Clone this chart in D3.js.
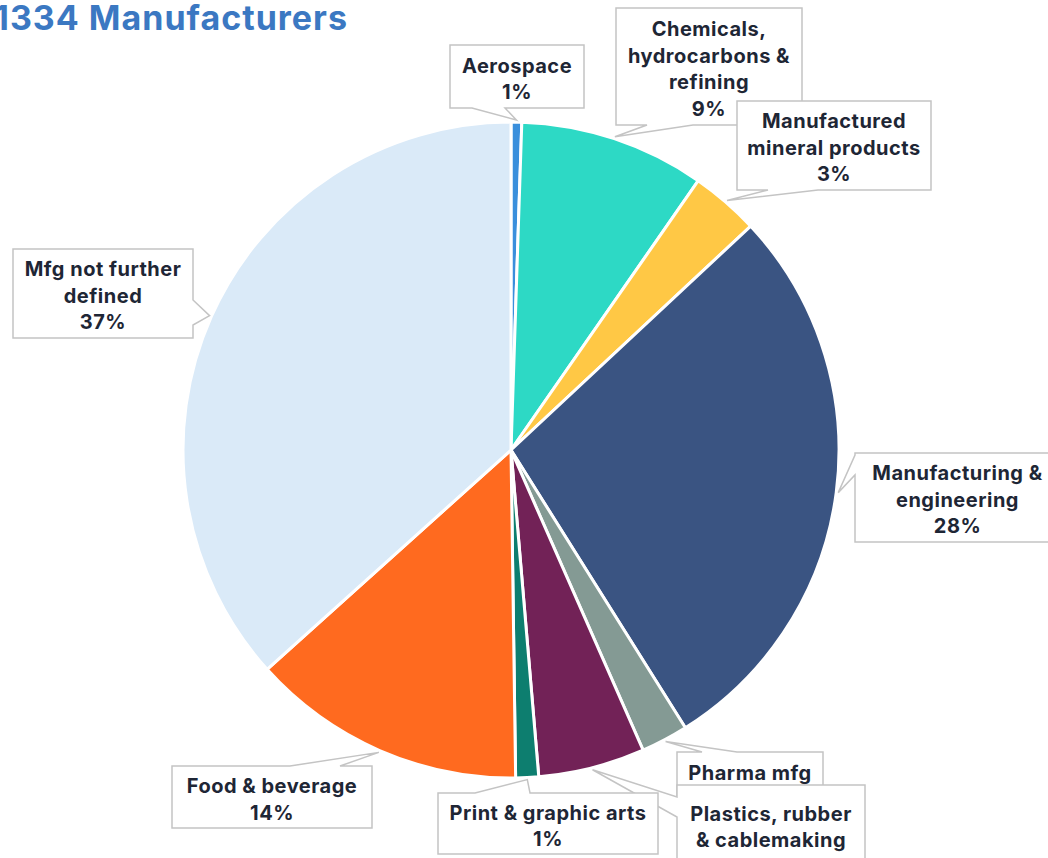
<!DOCTYPE html>
<html>
<head>
<meta charset="utf-8">
<script src="https://cdn.jsdelivr.net/npm/d3@7"></script>
<style>
  body { margin: 0; background: #fff; }
  svg { display: block; }
</style>
</head>
<body>
<div id="wrapper"></div>
<script>
/* DATA */
const categories = [
  'Aerospace',
  'Chemicals,\nhydrocarbons &\nrefining',
  'Manufactured\nmineral products',
  'Manufacturing &\nengineering',
  'Pharma mfg',
  'Plastics, rubber\n& cablemaking',
  'Print & graphic arts',
  'Food & beverage',
  'Mfg not further\ndefined',
];
const counts = [7, 122, 45, 374, 31, 70, 15, 181, 489];
const colors = [
  '#3a8fdc', '#2dd9c5', '#ffc845', '#3a5482', '#849a94',
  '#722257', '#0d7e6f', '#ff6a1f', '#daeaf8',
];

// callout boxes: x, y, w, h, side of the tail, tail base range on that side
const callouts = [
  { x: 450, y: 45, w: 134, h: 63, side: 'bottom', a: 472, b: 505 },
  { x: 616, y: 8, w: 186, h: 117, side: 'bottom', a: 647, b: 693 },
  { x: 737, y: 101, w: 194, h: 89, side: 'bottom', a: 768, b: 818 },
  { x: 855, y: 453, w: 205, h: 89, side: 'left', a: 455, b: 475 },
  { x: 677, y: 752, w: 146, h: 63, side: 'top', a: 702, b: 737 },
  { x: 677, y: 785, w: 188, h: 106, side: 'left', a: 797, b: 817 },
  { x: 438, y: 793, w: 220, h: 61, side: 'top', a: 475, b: 530 },
  { x: 172, y: 766, w: 200, h: 62, side: 'top', a: 290, b: 340 },
  { x: 13, y: 249, w: 180, h: 89, side: 'right', a: 300, b: 325 },
];

/* DIMENSIONS */
const width = 1048;
const height = 858;
const cx = 511;
const cy = 450;
const radius = 328;
const lineHeight = 26.5;

const total = d3.sum(counts);
const formatPct = d3.format('.0%');

const data = counts.map((v, i) => ({
  name: categories[i],
  value: v,
  color: colors[i],
  box: callouts[i],
}));

const svg = d3
  .select('#wrapper')
  .append('svg')
  .attr('width', width)
  .attr('height', height);

/* TITLE */
svg
  .append('text')
  .attr('x', 348)
  .attr('y', 30)
  .attr('text-anchor', 'end')
  .attr('fill', '#3b78c2')
  .style('font-family', 'Inter, "Noto Sans", sans-serif')
  .style('font-weight', 700)
  .style('font-size', '34px')
  .style('letter-spacing', '1px')
  .text(`${total} Manufacturers`);

/* PIE */
const pie = d3.pie().sort(null).value(d => d.value);
const arcs = pie(data);
const arc = d3.arc().innerRadius(0).outerRadius(radius);
const tipArc = d3.arc().innerRadius(radius + 2).outerRadius(radius + 2);

const bounds = svg.append('g').attr('transform', `translate(${cx},${cy})`);

bounds
  .selectAll('path')
  .data(arcs)
  .join('path')
  .attr('d', arc)
  .attr('fill', d => d.data.color)
  .attr('stroke', '#fff')
  .attr('stroke-width', 3)
  .attr('stroke-linejoin', 'round');

/* CALLOUTS */
function calloutPath(b, tip) {
  const x0 = b.x, y0 = b.y, x1 = b.x + b.w, y1 = b.y + b.h;
  const pts = [];
  // clockwise: top (L->R), right (T->B), bottom (R->L), left (B->T)
  pts.push([x0, y0]);
  if (b.side === 'top') pts.push([b.a, y0], tip, [b.b, y0]);
  pts.push([x1, y0]);
  if (b.side === 'right') pts.push([x1, b.a], tip, [x1, b.b]);
  pts.push([x1, y1]);
  if (b.side === 'bottom') pts.push([b.b, y1], tip, [b.a, y1]);
  pts.push([x0, y1]);
  if (b.side === 'left') pts.push([x0, b.b], tip, [x0, b.a]);
  return 'M' + pts.map(p => p.join(',')).join('L') + 'Z';
}

const labels = svg.append('g');

arcs.forEach(d => {
  const b = d.data.box;
  const c = tipArc.centroid(d);
  const tip = [cx + c[0], cy + c[1]];
  const g = labels.append('g');

  g.append('path')
    .attr('d', calloutPath(b, tip))
    .attr('fill', '#fff')
    .attr('stroke', '#c4c4c4')
    .attr('stroke-width', 1.5)
    .attr('stroke-linejoin', 'miter');

  const lines = d.data.name.split('\n').concat(formatPct(d.data.value / total));
  const textTop = b.y + b.h / 2 - (lines.length * lineHeight) / 2;

  g.append('text')
    .attr('text-anchor', 'middle')
    .attr('fill', '#1e2635')
    .style('font-family', 'Inter, "Noto Sans", sans-serif')
    .style('font-weight', 700)
    .style('font-size', '20px')
    .style('letter-spacing', '0.5px')
    .selectAll('tspan')
    .data(lines)
    .join('tspan')
    .attr('x', b.x + b.w / 2)
    .attr('y', (l, i) => textTop + i * lineHeight + 22.5)
    .text(l => l);
});
</script>
</body>
</html>
